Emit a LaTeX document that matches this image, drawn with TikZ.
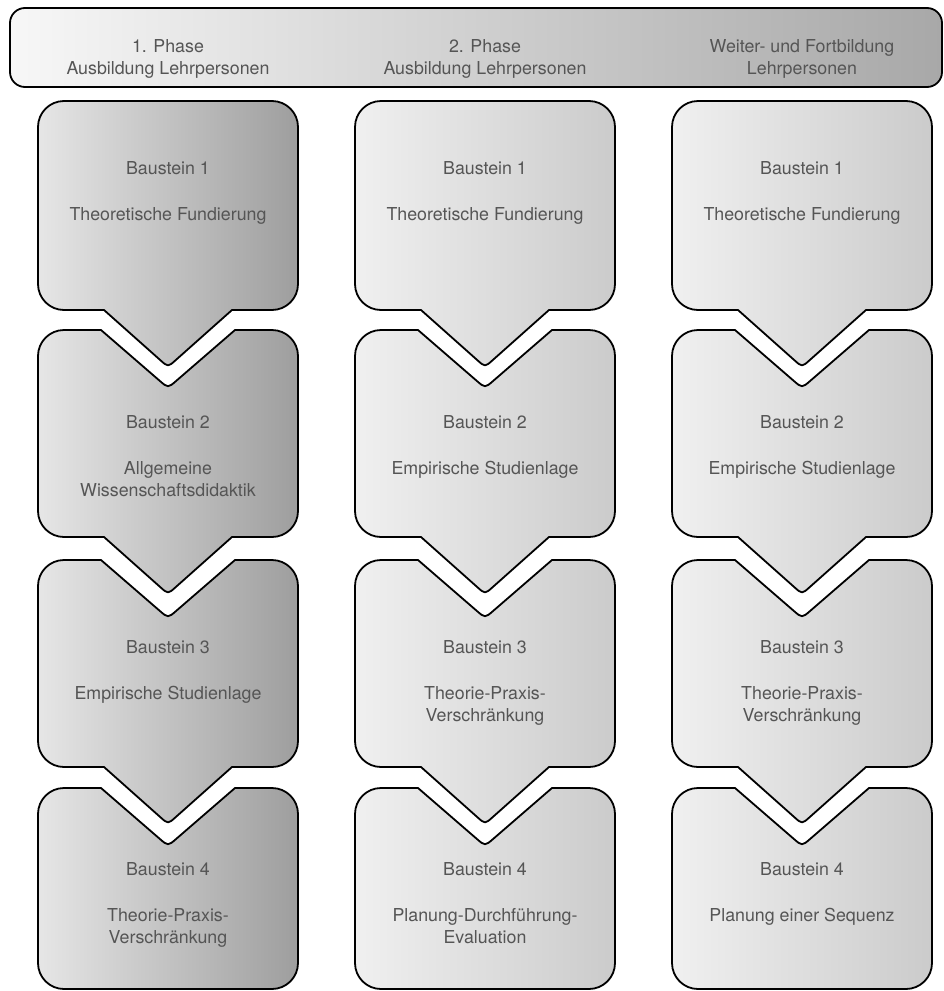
\documentclass[tikz,border=0pt]{standalone}
\usepackage{fontspec}
\setmainfont{TeX Gyre Heros}
\definecolor{txt}{HTML}{555555}
\definecolor{cal}{HTML}{E6E6E6}
\definecolor{cam}{HTML}{CDCDCD}
\definecolor{car}{HTML}{9E9E9E}
\definecolor{cbl}{HTML}{F0F0F0}
\definecolor{cbm}{HTML}{D6D6D6}
\definecolor{cbr}{HTML}{CBCBCB}
\definecolor{hl}{HTML}{F7F7F7}
\definecolor{hm}{HTML}{E2E2E2}
\definecolor{hr}{HTML}{A8A8A8}
% path pieces (cx, top, bottom)
\newcommand{\notchtop}[2]{-- ({#1-67},#2) -- ({#1-8.3},{#2+50.8}) .. controls (#1,{#2+58}) .. ({#1+8.3},{#2+50.8}) -- ({#1+67},#2)}
\newcommand{\rightside}[3]{-- ({#1+104},#2) arc[start angle=270,end angle=360,radius=26] -- ({#1+130},{#3-26}) arc[start angle=0,end angle=90,radius=26]}
\newcommand{\chevbot}[2]{-- ({#1+64},#2) -- ({#1+7.5},{#2+50.3}) .. controls (#1,{#2+57}) .. ({#1-7.5},{#2+50.3}) -- ({#1-64},#2)}
\newcommand{\leftside}[3]{-- ({#1-104},#3) arc[start angle=90,end angle=180,radius=26] -- ({#1-130},{#2+26}) arc[start angle=180,end angle=270,radius=26] -- cycle}
\begin{document}
\begin{tikzpicture}[x=1pt,y=-1pt,
  outl/.style={draw=black,line width=1.8pt,line join=round},
  darkfill/.style={left color=cal,middle color=cam,right color=car},
  lightfill/.style={left color=cbl,middle color=cbm,right color=cbr},
  headfill/.style={left color=hl,middle color=hm,right color=hr},
  lbl/.style={font=\fontsize{17.8}{22.5}\selectfont,text=txt,align=center,anchor=north,inner sep=0pt}]
\useasboundingbox (0,0) rectangle (944,991);
% header bar
\path[outl,headfill,rounded corners=15] (10,8) rectangle (942,87);
\node[lbl] (h1) at (168,39.2) {1. Phase\\Ausbildung Lehrpersonen};
\node[lbl] (h2) at (485,39.2) {2. Phase\\Ausbildung Lehrpersonen};
\node[lbl] (h3) at (802,39.2) {Weiter- und Fortbildung\\Lehrpersonen};
% column 1
\path[outl,darkfill] ({168-104},101) \rightside{168}{101}{310} \chevbot{168}{310} \leftside{168}{101}{310};
\path[outl,darkfill] ({168-104},330) \notchtop{168}{330} \rightside{168}{330}{537} \chevbot{168}{537} \leftside{168}{330}{537};
\path[outl,darkfill] ({168-104},560) \notchtop{168}{560} \rightside{168}{560}{767} \chevbot{168}{767} \leftside{168}{560}{767};
\path[outl,darkfill] ({168-104},788) \notchtop{168}{788} \rightside{168}{788}{989} \leftside{168}{788}{989};
% column 2
\path[outl,lightfill] ({485-104},101) \rightside{485}{101}{310} \chevbot{485}{310} \leftside{485}{101}{310};
\path[outl,lightfill] ({485-104},330) \notchtop{485}{330} \rightside{485}{330}{537} \chevbot{485}{537} \leftside{485}{330}{537};
\path[outl,lightfill] ({485-104},560) \notchtop{485}{560} \rightside{485}{560}{767} \chevbot{485}{767} \leftside{485}{560}{767};
\path[outl,lightfill] ({485-104},788) \notchtop{485}{788} \rightside{485}{788}{989} \leftside{485}{788}{989};
% column 3
\path[outl,lightfill] ({802-104},101) \rightside{802}{101}{310} \chevbot{802}{310} \leftside{802}{101}{310};
\path[outl,lightfill] ({802-104},330) \notchtop{802}{330} \rightside{802}{330}{537} \chevbot{802}{537} \leftside{802}{330}{537};
\path[outl,lightfill] ({802-104},560) \notchtop{802}{560} \rightside{802}{560}{767} \chevbot{802}{767} \leftside{802}{560}{767};
\path[outl,lightfill] ({802-104},788) \notchtop{802}{788} \rightside{802}{788}{989} \leftside{802}{788}{989};
% texts column 1
\node[lbl] (c1r1) at (168,161.2) {Baustein 1\\[23.5pt]Theoretische Fundierung};
\node[lbl] (c1r2) at (168,415.2) {Baustein 2\\[23.5pt]Allgemeine\\Wissenschaftsdidaktik};
\node[lbl] (c1r3) at (168,640.2) {Baustein 3\\[23.5pt]Empirische Studienlage};
\node[lbl] (c1r4) at (168,862.2) {Baustein 4\\[23.5pt]Theorie-Praxis-\\Verschränkung};
% texts column 2
\node[lbl] (c2r1) at (485,161.2) {Baustein 1\\[23.5pt]Theoretische Fundierung};
\node[lbl] (c2r2) at (485,415.2) {Baustein 2\\[23.5pt]Empirische Studienlage};
\node[lbl] (c2r3) at (485,640.2) {Baustein 3\\[23.5pt]Theorie-Praxis-\\Verschränkung};
\node[lbl] (c2r4) at (485,862.2) {Baustein 4\\[23.5pt]Planung-Durchführung-\\Evaluation};
% texts column 3
\node[lbl] (c3r1) at (802,161.2) {Baustein 1\\[23.5pt]Theoretische Fundierung};
\node[lbl] (c3r2) at (802,415.2) {Baustein 2\\[23.5pt]Empirische Studienlage};
\node[lbl] (c3r3) at (802,640.2) {Baustein 3\\[23.5pt]Theorie-Praxis-\\Verschränkung};
\node[lbl] (c3r4) at (802,862.2) {Baustein 4\\[23.5pt]Planung einer Sequenz};
\end{tikzpicture}
\end{document}
